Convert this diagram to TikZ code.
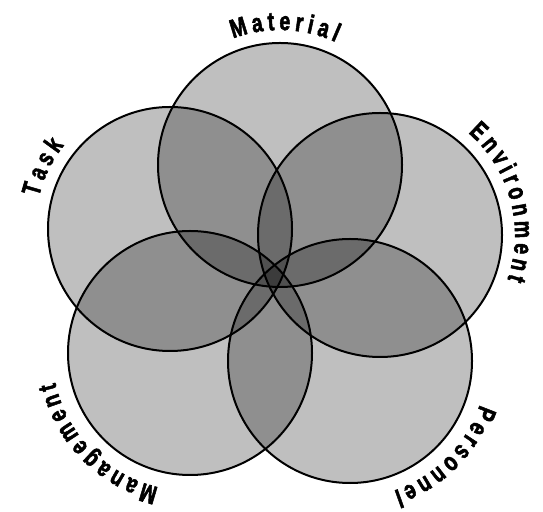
\documentclass[tikz,border=0pt]{standalone}
\usepackage{fontspec}
\newfontfamily\labfont{Liberation Sans Bold}[FakeBold=2.5]
\newcommand\labsize{\labfont\fontsize{26}{26}\selectfont}
\newcommand\labsq{0.75}
% #1 name prefix, #2 centre, #3 radius, #4 middle angle, #5 letter gap, #6 letters
\newcommand\arctext[6]{%
  \begingroup\labsize
  \gdef\atL{0}\gdef\atN{0}%
  \foreach \ch in {#6}{%
    \pgfmathwidth{"\ch"}%
    \xdef\atL{\fpeval{\atL+\labsq*\pgfmathresult}}%
    \xdef\atN{\the\numexpr\atN+1\relax}}%
  \xdef\atA{\fpeval{#4+(\atL+(\atN-1)*#5)/2/#3*180/pi}}%
  \gdef\atC{0}%
  \foreach \ch [count=\i] in {#6}{%
    \pgfmathwidth{"\ch"}\let\atW\pgfmathresult
    \pgfmathsetmacro\ang{\atA-(\atC+\labsq/2*\atW)/#3*180/pi}%
    \path (#2) ++(\ang:#3) node[glyph, rotate=\ang-90] (#1\i) {\scalebox{\labsq}[1]{\ch}};%
    \xdef\atC{\fpeval{\atC+\labsq*\atW+#5}}}%
  \endgroup}
\begin{document}
\begin{tikzpicture}[x=1pt,y=1pt,
  ring/.style={draw=black, line width=2pt},
  tint/.style={fill=black, fill opacity=0.25},
  glyph/.style={anchor=base, inner sep=0pt, font=\labsize}
]
\useasboundingbox (0,0) rectangle (543,511);
\coordinate (env) at (380,276);
\coordinate (mat) at (280,346);
\coordinate (task) at (170,282);
\coordinate (mgmt) at (190,158);
\coordinate (pers) at (350,150);
\def\rr{122}
\foreach \c in {env,mat,task,mgmt,pers}{
  \path[tint] (\c) circle[radius=\rr];
}
\foreach \c in {env,mat,task,mgmt,pers}{
  \draw[ring] (\c) circle[radius=\rr];
}
\arctext{m}{mat}{135}{88}{4.5}{M,a,t,e,r,i,a,l}
\arctext{e}{env}{135}{15}{4.2}{E,n,v,i,r,o,n,m,e,n,t}
\arctext{t}{task}{135}{154}{4.5}{T,a,s,k}
\arctext{g}{mgmt}{138}{224.6}{4}{M,a,n,a,g,e,m,e,n,t}
\arctext{p}{pers}{137}{-45}{4}{P,e,r,s,o,n,n,e,l}
\end{tikzpicture}
\end{document}
